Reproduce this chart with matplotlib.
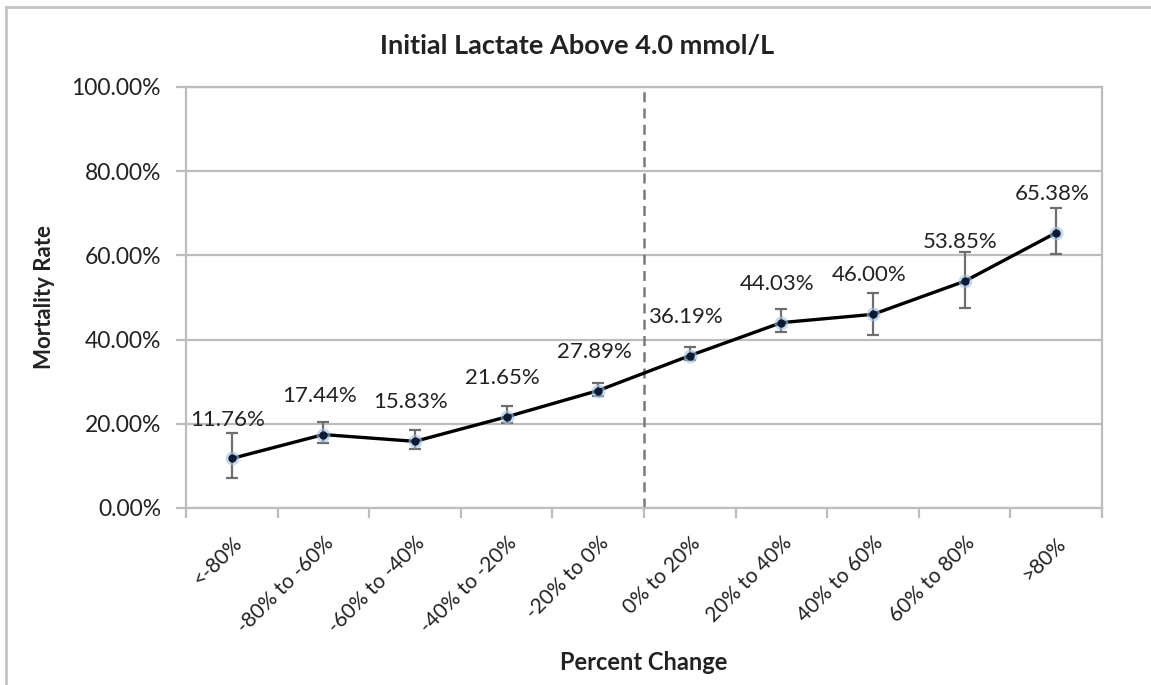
import matplotlib.pyplot as plt
from matplotlib.lines import Line2D
from matplotlib.ticker import FixedLocator, FuncFormatter
from matplotlib.transforms import ScaledTranslation

plt.rcParams['font.family'] = ['Lato', 'DejaVu Sans']

# Data
categories = ['<-80%', '-80% to -60%', '-60% to -40%', '-40% to -20%', '-20% to 0%',
              '0% to 20%', '20% to 40%', '40% to 60%', '60% to 80%', '>80%']
mortality = [11.76, 17.44, 15.83, 21.65, 27.89, 36.19, 44.03, 46.00, 53.85, 65.38]
err_low = [4.7, 2.0, 1.7, 1.4, 1.3, 1.1, 2.3, 5.0, 6.3, 5.1]
err_high = [6.0, 3.0, 2.7, 2.5, 1.9, 2.0, 3.3, 5.0, 7.0, 5.8]

fig = plt.figure(figsize=(11.51, 6.85), dpi=100)
ax = fig.add_axes([0.1616, 0.2584, 0.7958, 0.6146])

x = list(range(len(categories)))
grid_c = '#bdbdbd'
text_c = '#222222'

ax.errorbar(x, mortality, yerr=[err_low, err_high], fmt='none',
            ecolor='#6e6e6e', elinewidth=1.6, capsize=4, capthick=1.6, zorder=3)
ax.plot(x, mortality, color='black', lw=2.4, zorder=4)
ax.plot(x, mortality, 'o', ms=9, color='#9fc3e6', alpha=0.5, zorder=5)
ax.plot(x, mortality, 'o', ms=5, color='#0c1b33', zorder=6)

for xi, v in zip(x, mortality):
    ax.annotate(f'{v:.2f}%', (xi, v), xytext=(-3, 28), textcoords='offset points',
                ha='center', va='center', fontsize=16, color=text_c)

# vertical dashed line at 0% change
ax.axvline(4.5, color='#7a7a7a', lw=1.8, ls=(0, (4, 2.5)), zorder=2)

ax.set_xlim(-0.5, len(categories) - 0.5)
ax.set_ylim(0, 100)

ax.yaxis.set_major_locator(FixedLocator([0, 20, 40, 60, 80, 100]))
ax.yaxis.set_major_formatter(FuncFormatter(lambda v, p: f'{v:.2f}%'))
ax.grid(axis='y', color=grid_c, lw=1.6, zorder=0)

ax.xaxis.set_major_locator(FixedLocator([i - 0.5 for i in range(len(categories) + 1)]))
ax.xaxis.set_major_formatter(FuncFormatter(lambda v, p: ''))
ax.xaxis.set_minor_locator(FixedLocator(x))
ax.set_xticklabels(categories, minor=True)
ax.tick_params(axis='x', which='minor', length=0, pad=18, labelsize=15)
ax.tick_params(axis='x', which='major', length=7, width=1.6, color=grid_c)
ax.tick_params(axis='y', length=7, width=1.6, color=grid_c, labelsize=16.5, pad=11,
               labelcolor=text_c)

off = ScaledTranslation(0, 0, fig.dpi_scale_trans)
for lab in ax.get_xticklabels(minor=True):
    lab.set_rotation(45)
    lab.set_ha('right')
    lab.set_va('top')
    lab.set_rotation_mode('anchor')
    lab.set_color(text_c)
    lab.set_transform(lab.get_transform() + off)

for s in ['left', 'bottom', 'right', 'top']:
    ax.spines[s].set_color(grid_c)
    ax.spines[s].set_linewidth(1.6)

fig.text(577 / 1151, 1 - 46 / 685, 'Initial Lactate Above 4.0 mmol/L',
         ha='center', va='center', fontsize=19.5, fontweight='bold', color=text_c)
fig.text(644 / 1151, 1 - 662 / 685, 'Percent Change',
         ha='center', va='center', fontsize=17, fontweight='bold', color=text_c)
ax.set_ylabel('Mortality Rate', fontsize=16, fontweight='bold', labelpad=12, color=text_c)

# outer chart frame (left and top edges visible)
fig.add_artist(Line2D([0.005, 0.005], [0, 0.99], color='#c4c4c4', lw=2))
fig.add_artist(Line2D([0.005, 1.0], [0.99, 0.99], color='#c4c4c4', lw=2))

fig.savefig('out.png', dpi=100, facecolor='white')
